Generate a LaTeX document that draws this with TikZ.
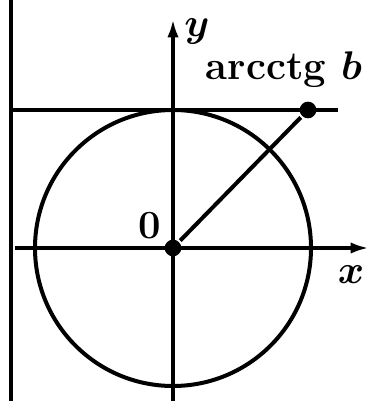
\documentclass[tikz,border=0pt]{standalone}
\usepackage{bm}
\usetikzlibrary{arrows.meta}
\begin{document}
\begin{tikzpicture}[x=0.3pt,y=0.3pt,>={Latex[length=5.5pt,width=3.4pt]},line width=1.2pt,
    dot/.style={circle,fill,inner sep=0pt,minimum size=5pt},
    lbl/.style={inner sep=0pt,font=\large\bfseries}]
    \useasboundingbox (-173,-153) rectangle (197,248);
    \draw (-162,248) -- (-162,-153);
    \draw (-163,138) -- (165,138);
    \draw (0,0) circle (138);
    \draw[->] (-158,0) -- (196,0);
    \draw[->] (0,-153) -- (0,229);
    \node[dot] (o) at (0,0) {};
    \node[dot] (p) at (135,138) {};
    \draw (o) -- (p);
    \node[lbl] (ylbl) at (24,216) {$\bm{y}$};
    \node[lbl] (xlbl) at (178,-27) {$\bm{x}$};
    \node[lbl] (zero) at (-23,22) {0};
    \node[lbl] (arc) at (111,178) {arcctg $\bm{b}$};
\end{tikzpicture}
\end{document}
